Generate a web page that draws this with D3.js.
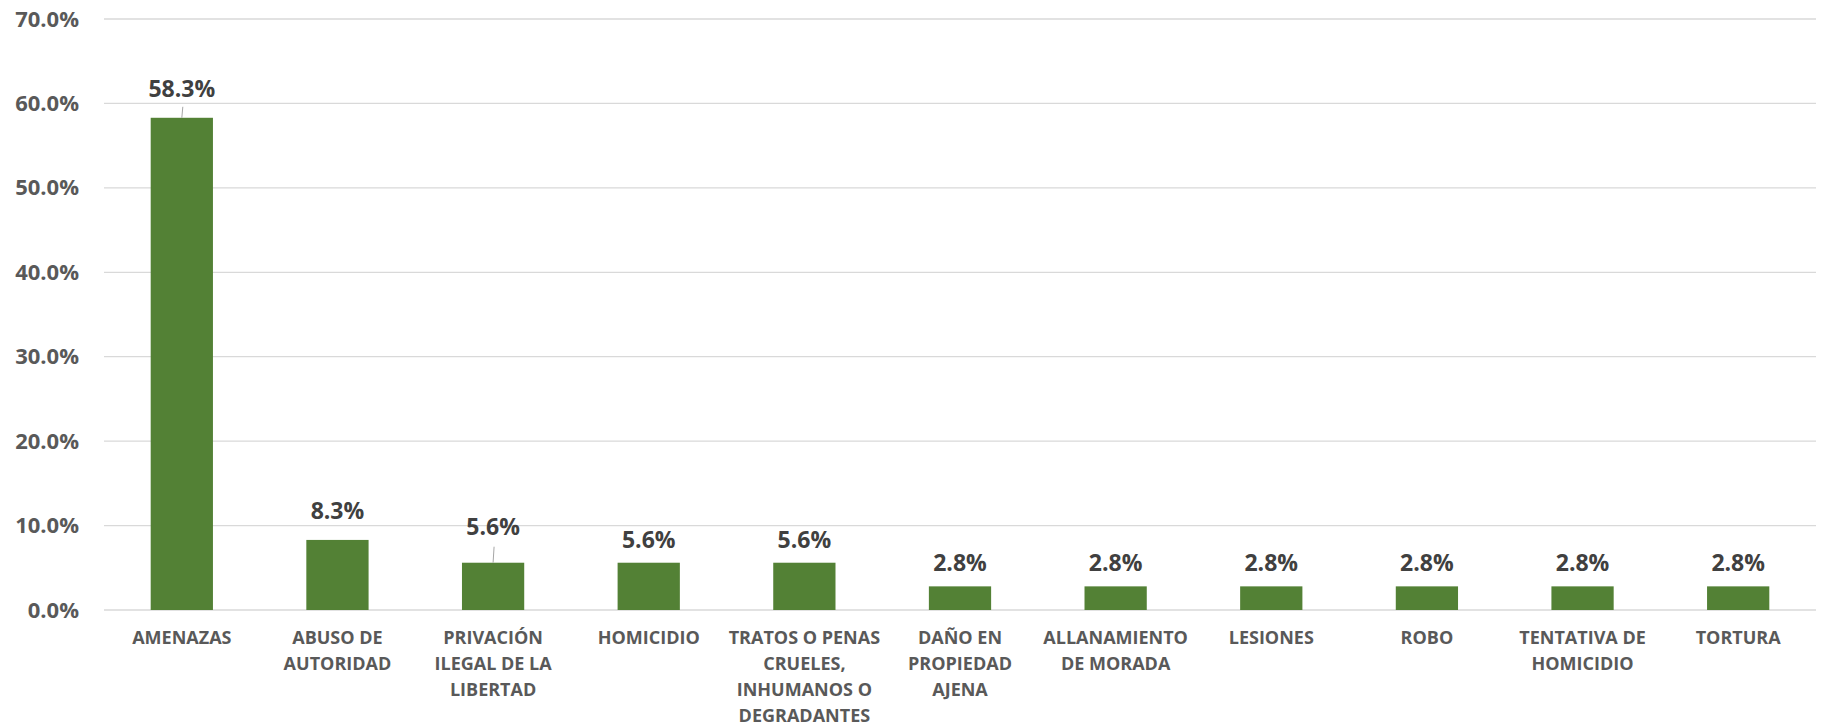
<!DOCTYPE html>
<html>
<head>
<meta charset="utf-8">
<script src="https://cdn.jsdelivr.net/npm/d3@7"></script>
<style>
  body { margin: 0; background: #fff; }
  text { font-family: "Open Sans", sans-serif; font-weight: bold; }
</style>
</head>
<body>
<div id="chart"></div>
<script>
// Bar chart: percent by type of incident

var categories = [
	"AMENAZAS",
	"ABUSO DE\nAUTORIDAD",
	"PRIVACIÓN\nILEGAL DE LA\nLIBERTAD",
	"HOMICIDIO",
	"TRATOS O PENAS\nCRUELES,\nINHUMANOS O\nDEGRADANTES",
	"DAÑO EN\nPROPIEDAD\nAJENA",
	"ALLANAMIENTO\nDE MORADA",
	"LESIONES",
	"ROBO",
	"TENTATIVA DE\nHOMICIDIO",
	"TORTURA"
];
var values = [58.3, 8.3, 5.6, 5.6, 5.6, 2.8, 2.8, 2.8, 2.8, 2.8, 2.8];
var yTicks = [0, 10, 20, 30, 40, 50, 60, 70];

function bar_chart(div_id) {
	var width = 1822, height = 728;
	var margin = {top: 19, right: 6, bottom: 118, left: 104};
	var w = width - margin.left - margin.right,
		h = height - margin.top - margin.bottom;

	var x = d3.scaleBand()
		.domain(d3.range(categories.length))
		.range([0, w])
		.paddingInner(0.6)
		.paddingOuter(0.3);
	var y = d3.scaleLinear()
		.domain([0, 70])
		.range([h, 0]);

	var svg = d3.select('#' + div_id).append("svg")
		.attr("width", width)
		.attr("height", height)
		.style("background", "#fff")
	  .append("g")
		.attr("transform", "translate(" + margin.left + "," + margin.top + ")");

	// gridlines
	svg.selectAll(".grid")
		.data(yTicks)
		.enter().append("line")
		  .attr("x1", 0).attr("x2", w)
		  .attr("y1", function(d) { return y(d); })
		  .attr("y2", function(d) { return y(d); })
		  .attr("stroke", "#d9d9d9")
		  .attr("stroke-width", 1.3);

	// y axis labels
	var yAxis = svg.append("g")
		.call(d3.axisLeft(y).tickValues(yTicks).tickSize(0).tickPadding(25)
			.tickFormat(function(d) { return d.toFixed(1) + "%"; }));
	yAxis.select(".domain").remove();
	yAxis.selectAll("text")
		.attr("fill", "#595959")
		.style("font-size", "22px")
		.style("font-family", "'Open Sans', sans-serif")
		.style("font-weight", "bold");

	// bars
	svg.selectAll(".bar")
		.data(values)
		.enter().append("rect")
		  .attr("class", "bar")
		  .attr("x", function(d, i) { return x(i); })
		  .attr("width", x.bandwidth())
		  .attr("y", function(d) { return y(d); })
		  .attr("height", function(d) { return h - y(d); })
		  .attr("fill", "#538135");

	// data labels (a couple were dragged up in the original, with leader lines)
	var lift = {0: 6, 1: 6, 2: 13};
	svg.selectAll(".lbl")
		.data(values)
		.enter().append("text")
		  .attr("x", function(d, i) { return x(i) + x.bandwidth() / 2; })
		  .attr("y", function(d, i) { return y(d) - 15 - (lift[i] || 0); })
		  .attr("text-anchor", "middle")
		  .attr("fill", "#404040")
		  .style("font-size", "23px")
		  .text(function(d) { return d.toFixed(1) + "%"; });

	[0, 2].forEach(function(i) {
		var cx = x(i) + x.bandwidth() / 2;
		svg.append("line")
			.attr("x1", cx + 1).attr("y1", y(values[i]) - (i === 0 ? 11 : 16))
			.attr("x2", cx).attr("y2", y(values[i]))
			.attr("stroke", "#a6a6a6")
			.attr("stroke-width", 1);
	});

	// category labels
	var cat = svg.selectAll(".cat")
		.data(categories)
		.enter().append("text")
		  .attr("class", "cat")
		  .attr("text-anchor", "middle")
		  .attr("fill", "#595959")
		  .style("font-size", "18px")
		  .attr("transform", function(d, i) {
			  return "translate(" + (x(i) + x.bandwidth() / 2) + "," + (h + 34) + ")";
		  });
	cat.selectAll("tspan")
		.data(function(d) { return d.split("\n"); })
		.enter().append("tspan")
		  .attr("x", 0)
		  .attr("y", function(d, j) { return j * 26; })
		  .text(function(d) { return d; });
} // bar_chart

bar_chart("chart");
</script>
</body>
</html>
